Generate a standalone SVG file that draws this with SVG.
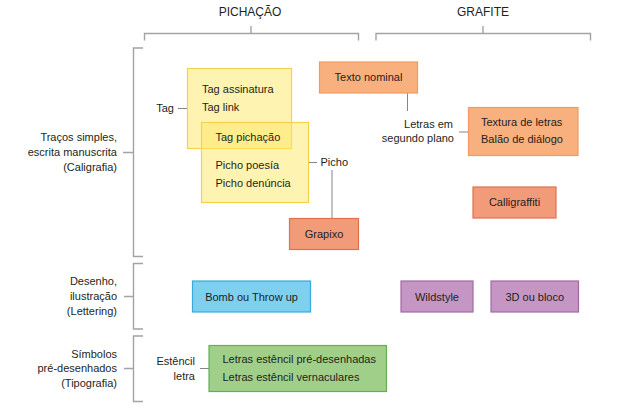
<svg xmlns="http://www.w3.org/2000/svg" width="627" height="417" viewBox="0 0 627 417">
<style>
text{font-family:"Liberation Sans",Arial,sans-serif;font-size:11px;fill:#231f20}
.title{font-size:12px}
.end{text-anchor:end}
.mid{text-anchor:middle}
.br{fill:none;stroke:#a3a3a3;stroke-width:1.4}
.cn{fill:none;stroke:#858585;stroke-width:1}
.yel{fill:#ffe866;fill-opacity:0.5;stroke:#f3d34a;stroke-width:1.2}
.sal{fill:#f29b79;stroke:#e2704f;stroke-width:1.2}
.org{fill:#f9b07f;stroke:#f29a62;stroke-width:1.2}
.blu{fill:#7fcfee;stroke:#3aa9dc;stroke-width:1.2}
.pur{fill:#c596c4;stroke:#9d6a9f;stroke-width:1.2}
.grn{fill:#a0cf8a;stroke:#69ac58;stroke-width:1.2}
</style>
<rect width="627" height="417" fill="#ffffff"/>
<g id="brackets">
<path class="br" d="M144.5,40.5 V33.5 H358.5 V40.5 M251,26 V33.5"/>
<path class="br" d="M376,40.5 V33.5 H590.5 V40.5 M483,26 V33.5"/>
<path class="br" d="M143,48 H133.5 V256.5 H143 M123,152.5 H133.5"/>
<path class="br" d="M143,263.5 H133.5 V329 H143 M124,296.5 H133.5"/>
<path class="br" d="M143,336 H133.5 V401.5 H143 M124,368.5 H133.5"/>
</g>
<g id="connectors">
<path class="cn" d="M178,108.5 H187.5"/>
<path class="cn" d="M308.5,162.5 H317"/>
<path class="cn" d="M332,170 V218.5"/>
<path class="cn" d="M407.5,93 V111"/>
<path class="cn" d="M459,132 H468.5"/>
<path class="cn" d="M200,368.5 H209"/>
</g>
<g id="headers">
<text class="title mid" x="250" y="16">PICHAÇÃO</text>
<text class="title mid" x="483" y="16">GRAFITE</text>
</g>
<g id="row-caligrafia">
<text class="end" x="117" y="141">Traços simples,</text>
<text class="end" x="117" y="156">escrita manuscrita</text>
<text class="end" x="117" y="170.5">(Caligrafia)</text>
</g>
<g id="row-lettering">
<text class="end" x="117" y="285">Desenho,</text>
<text class="end" x="117" y="300">ilustração</text>
<text class="end" x="117" y="315">(Lettering)</text>
</g>
<g id="row-tipografia">
<text class="end" x="117" y="358">Símbolos</text>
<text class="end" x="117" y="372">pré-desenhados</text>
<text class="end" x="117" y="387">(Tipografia)</text>
</g>
<g id="tag-label"><text class="end" x="174" y="112">Tag</text></g>
<g id="tag-box">
<rect class="yel" x="187.5" y="68.5" width="104" height="80"/>
<text x="202" y="93">Tag assinatura</text>
<text x="202" y="111">Tag link</text>
</g>
<g id="picho-box">
<rect class="yel" x="201.5" y="122.5" width="107" height="80"/>
<text x="215.5" y="140.5">Tag pichação</text>
<text x="215.5" y="169">Picho poesía</text>
<text x="215.5" y="187">Picho denúncia</text>
</g>
<g id="picho-label"><text x="320.5" y="166">Picho</text></g>
<g id="grapixo">
<rect class="sal" x="289.5" y="218.5" width="69" height="31"/>
<text class="mid" x="324" y="238">Grapixo</text>
</g>
<g id="texto-nominal">
<rect class="org" x="319.5" y="62" width="98" height="31"/>
<text class="mid" x="368.5" y="81">Texto nominal</text>
</g>
<g id="letras-label">
<text class="end" x="453" y="128">Letras em</text>
<text class="end" x="454" y="142">segundo plano</text>
</g>
<g id="textura">
<rect class="org" x="468.5" y="107.5" width="109.5" height="48"/>
<text x="481" y="125.5">Textura de letras</text>
<text x="481" y="143">Balão de diálogo</text>
</g>
<g id="calligraffiti">
<rect class="sal" x="473" y="187" width="83" height="31"/>
<text class="mid" x="514.5" y="206">Calligraffiti</text>
</g>
<g id="bomb">
<rect class="blu" x="192.5" y="281" width="118" height="31"/>
<text class="mid" x="251.5" y="300.5">Bomb ou Throw up</text>
</g>
<g id="wildstyle">
<rect class="pur" x="401" y="281" width="72" height="31"/>
<text class="mid" x="437" y="300.5">Wildstyle</text>
</g>
<g id="bloco">
<rect class="pur" x="491" y="281" width="87.5" height="31"/>
<text class="mid" x="534.75" y="300.5">3D ou bloco</text>
</g>
<g id="estencil-label">
<text class="end" x="195" y="365">Estêncil</text>
<text class="end" x="195" y="379.5">letra</text>
</g>
<g id="estencil">
<rect class="grn" x="209" y="345.5" width="177.5" height="46"/>
<text x="222.5" y="363">Letras estêncil pré-desenhadas</text>
<text x="222.5" y="381">Letras estêncil vernaculares</text>
</g>
</svg>
